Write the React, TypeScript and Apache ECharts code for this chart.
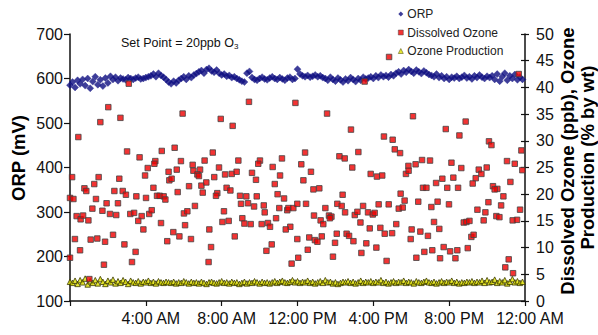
import React, { useEffect, useRef } from "react";
import * as echarts from "echarts";

const X_TICKS: string[] = ["", "4:00 AM", "8:00 AM", "12:00 PM", "4:00 PM", "8:00 PM", "12:00 AM"];
const STEP_HOURS = 8 / 60;

const ORP: number[] = [
  585, 592, 580, 596, 588,
  598, 584, 600, 578, 593, 604, 586, 597, 583, 601, 590, 605,
  598, 603, 595, 601, 599, 597, 602, 600, 598, 601, 603, 599, 600, 602, 604,
  606, 610, 604, 612, 607, 603, 598,
  592, 588, 594, 590, 596,
  600, 604, 598, 606, 602, 608, 611,
  615, 618, 612, 620, 623, 617, 614, 619,
  612, 608, 610, 605, 607, 602, 604, 600, 597,
  594, 592, 612, 616,
  602, 598, 596, 600, 603, 599, 597, 601, 604, 600, 598, 602, 599, 596, 601, 603, 598, 600,
  621,
  610, 606, 604, 607, 603, 605, 608, 604, 606, 602,
  600, 596, 603, 598, 594, 601, 597, 592, 599, 595, 602, 598, 593, 600, 596, 603, 599, 601,
  604, 600, 606, 602, 608, 604, 607, 603, 609, 606,
  612, 615, 610, 618, 614, 620, 616, 612, 619, 615, 611, 617, 613, 609,
  607, 604, 610, 602, 606, 600, 604, 598, 603, 601,
  605, 600, 603, 607, 601, 604, 599, 606, 602, 608, 603, 600, 605, 602,
  606, 598, 610, 594, 604, 612, 596, 606, 600, 609, 597, 603, 598,
];

const OZONE_PRODUCTION: number[] = [
  3.6, 3.4, 3.8, 3.2, 3.9, 3.5, 4.2, 3.1, 3.7, 3.4, 3.9, 3.3, 4.1, 3.6, 3.2, 3.8, 3.5, 4.0, 3.3, 3.7,
  3.4, 3.9, 3.6, 3.2, 3.8, 3.5, 3.4, 3.7, 3.3, 3.6, 3.5, 3.8, 3.4, 3.6, 3.3, 3.7, 3.5, 3.4, 3.6, 3.5,
  3.4, 3.6, 3.3, 3.5, 3.4, 3.7, 3.5, 3.3, 3.6, 3.4, 3.5, 3.3, 3.6, 3.4, 3.2, 3.5, 3.6, 3.4, 3.3, 3.5,
  3.7, 3.4, 3.5, 3.3, 3.6, 3.4, 3.5, 3.2, 3.4, 3.6, 3.3, 3.5, 3.4, 3.7, 3.5, 3.3, 3.6, 3.4, 3.5, 3.3,
  3.5, 3.7, 3.4, 3.6, 3.8, 3.5, 3.4, 3.6, 3.9, 3.5, 3.7, 3.4, 3.6, 3.5, 3.8, 3.4, 3.6, 3.3, 3.5, 3.7,
  3.4, 3.9, 3.5, 3.6, 3.3, 3.5, 3.2, 3.4, 3.6, 3.5, 3.7, 3.4, 3.6, 3.3, 3.5, 3.8, 3.4, 3.6, 3.5, 3.7,
  3.4, 3.6, 3.5, 3.9, 3.4, 3.6, 3.3, 3.5, 3.7, 3.4, 3.6, 3.5, 3.8, 3.4, 3.6, 3.5, 3.3, 3.7, 3.5, 3.4,
  3.6, 3.8, 3.5, 3.4, 3.6, 3.3, 3.5, 3.7, 3.4, 3.6, 3.5, 3.8, 3.4, 3.6, 3.3, 3.5, 3.4, 3.6, 3.5, 3.7,
  3.4, 3.6, 3.5, 3.8, 3.4, 3.9, 3.5, 3.6, 4.0, 3.4, 3.7, 3.5, 3.9, 3.3, 3.6, 4.1, 3.5, 3.7, 3.4, 3.6,
];

// [hour of day, dissolved ozone ppb]
const DISSOLVED_OZONE: number[][] = [
  [3.10, 40.7], [5.94, 35.1], [2.02, 36.3], [1.60, 33.5], [2.66, 34.3], [0.44, 30.7], [3.01, 28.0], [3.67, 26.9],
  [4.84, 28.1], [5.52, 28.7], [5.85, 26.2], [0.11, 23.2], [4.10, 24.9], [4.50, 26.2], [4.45, 25.7], [3.96, 23.5],
  [5.20, 24.2], [5.63, 24.6], [1.51, 23.2], [2.60, 22.9], [5.24, 22.6], [5.36, 22.9], [0.76, 21.1], [0.86, 20.6],
  [1.28, 21.9], [2.34, 20.6], [2.78, 20.6], [2.95, 19.9], [0.0, 19.3], [0.18, 19.1], [1.37, 19.1], [3.50, 19.6],
  [4.01, 19.3], [4.40, 21.2], [4.59, 19.7], [4.73, 19.7], [4.94, 19.6], [5.03, 19.0], [5.68, 20.4], [1.18, 17.3],
  [1.71, 16.9], [1.93, 18.3], [2.53, 18.3], [2.11, 16.3], [2.44, 16.1], [3.18, 16.3], [3.38, 16.5], [3.78, 15.9],
  [3.60, 15.0], [4.18, 16.3], [4.31, 17.0], [6.01, 16.4], [0.35, 15.9], [0.56, 15.3], [0.69, 16.0], [0.97, 15.1],
  [4.80, 14.6], [6.07, 14.2], [3.87, 13.4], [0.26, 11.6], [1.09, 11.5], [1.44, 11.7], [1.85, 11.1], [2.27, 12.4],
  [2.87, 10.6], [5.45, 12.9], [5.77, 12.1], [5.13, 11.2], [0.53, 9.5], [3.46, 9.2], [0.0, 8.1], [1.79, 6.8],
  [3.27, 7.3], [1.02, 4.1],
  [9.44, 37.3], [11.89, 37.1], [7.95, 34.1], [8.58, 32.8], [7.53, 27.8], [6.47, 25.5], [7.10, 26.3], [8.88, 26.3],
  [10.02, 26.3], [9.93, 25.7], [11.18, 26.7], [6.51, 24.4], [6.86, 24.6], [6.72, 23.7], [6.80, 23.4], [7.86, 25.0],
  [7.61, 23.2], [8.18, 23.7], [8.53, 23.8], [8.79, 24.2], [9.60, 24.0], [9.81, 22.7], [10.69, 25.1], [11.08, 23.5],
  [10.80, 21.9], [6.28, 21.5], [6.93, 21.6], [7.19, 22.2], [7.00, 20.3], [8.26, 21.2], [8.46, 20.7], [7.77, 20.2],
  [7.70, 19.7], [8.97, 19.7], [9.30, 19.6], [9.85, 19.6], [10.95, 20.0], [11.29, 19.2], [9.02, 18.2], [9.39, 18.3],
  [9.71, 17.7], [10.22, 17.9], [11.04, 17.4], [11.46, 17.0], [11.52, 17.4], [11.78, 17.4], [11.99, 18.2], [6.59, 17.8],
  [6.19, 16.8], [8.12, 16.8], [10.27, 16.6], [9.09, 15.5], [10.87, 15.5], [8.04, 14.8], [8.37, 15.0], [9.20, 14.5],
  [9.53, 14.4], [10.11, 14.4], [10.44, 14.6], [10.55, 13.9], [11.62, 13.9], [11.38, 13.4], [7.35, 13.4], [6.38, 11.6],
  [8.69, 12.1], [11.99, 11.6], [7.44, 10.1], [10.64, 10.6], [10.36, 9.4], [7.31, 7.3], [11.69, 7.0], [12.04, 8.1],
  [15.54, 41.1], [13.56, 35.1], [14.82, 32.1], [18.09, 34.6], [16.56, 30.8], [17.02, 30.2], [15.21, 27.9], [17.13, 28.4],
  [17.41, 27.7], [12.40, 27.8], [14.21, 27.1], [14.49, 26.7], [12.20, 25.6], [14.89, 25.0], [12.71, 24.2], [12.31, 22.6],
  [15.86, 23.8], [16.19, 23.3], [16.47, 23.5], [17.72, 23.8], [17.85, 25.3], [17.86, 24.4], [12.84, 20.9], [13.15, 21.1],
  [14.38, 19.9], [17.44, 20.1], [17.65, 18.8], [12.45, 18.2], [13.47, 17.4], [14.10, 18.2], [14.33, 17.8], [15.46, 17.8],
  [16.28, 18.1], [16.81, 18.1], [17.34, 17.3], [17.55, 17.5], [12.87, 16.0], [13.66, 16.0], [13.79, 15.8], [13.71, 15.5],
  [14.51, 16.6], [15.02, 16.1], [15.16, 16.7], [15.72, 16.6], [15.97, 16.2], [16.07, 16.5], [13.22, 15.1], [13.36, 14.4],
  [15.32, 14.7], [17.21, 14.4], [15.81, 13.6], [16.37, 13.7], [16.60, 12.6], [16.99, 12.7], [18.02, 13.4], [12.62, 11.9],
  [13.28, 12.1], [14.07, 12.6], [14.59, 12.6], [14.72, 12.2], [12.92, 11.4], [13.05, 11.1], [13.98, 10.9], [14.95, 11.2],
  [15.63, 10.8], [17.97, 11.6], [12.54, 9.6], [16.16, 10.0], [13.87, 8.3], [15.37, 9.0], [16.70, 7.5], [16.83, 45.7],
  [23.67, 42.5], [19.82, 32.2], [20.87, 33.6], [20.54, 31.0], [22.10, 29.9], [22.23, 29.2], [23.81, 28.2], [18.23, 25.6],
  [18.57, 26.4], [18.99, 26.3], [20.12, 25.9], [20.64, 24.9], [21.98, 25.0], [23.05, 26.2], [23.46, 25.7], [23.86, 24.5],
  [21.56, 24.6], [21.70, 23.8], [21.40, 23.0], [21.24, 22.0], [19.64, 22.9], [19.31, 22.1], [20.22, 23.1], [18.62, 21.2],
  [18.80, 21.2], [19.90, 21.2], [20.47, 21.2], [22.31, 21.5], [22.54, 21.0], [22.40, 20.9], [22.86, 19.6], [23.23, 22.3],
  [18.37, 18.6], [19.06, 17.6], [19.39, 18.6], [19.99, 18.1], [22.07, 18.5], [22.74, 17.9], [21.49, 17.1], [21.91, 16.6],
  [23.74, 17.1], [22.49, 15.9], [22.65, 15.7], [21.82, 15.1], [23.35, 15.1], [23.58, 15.2], [20.77, 14.7], [20.91, 14.8],
  [21.07, 15.0], [19.20, 14.8], [18.48, 13.0], [19.48, 13.5], [18.88, 12.2], [21.17, 12.0], [21.29, 12.4], [19.71, 10.1],
  [18.69, 9.2], [19.11, 9.5], [20.05, 9.3], [20.43, 9.5], [20.98, 9.9], [18.27, 8.1], [19.52, 8.0], [20.33, 8.0],
  [23.14, 7.8], [22.96, 6.3], [23.37, 5.2],
];

const FONT = '"Liberation Sans", Arial, Helvetica, sans-serif';

export default function App() {
  const ref = useRef<HTMLDivElement>(null);

  useEffect(() => {
    document.body.style.margin = "0";
    if (!ref.current) return;
    const chart = echarts.init(ref.current, undefined, { renderer: "svg" });

    const orpData = ORP.map((v, i) => [i * STEP_HOURS, v]);
    const prodData = OZONE_PRODUCTION.map((v, i) => [i * STEP_HOURS, v]);

    const axisLine = { show: true, lineStyle: { color: "#111", width: 1.5 } };
    const tickStyle = { color: "#111", width: 1.2 };
    const labelBase = { fontSize: 16, fontFamily: FONT, color: "#111" };
    const titleStyle = {
      fontSize: 18.5,
      fontWeight: "bold",
      fontFamily: FONT,
      fill: "#000",
      align: "center",
      verticalAlign: "middle",
      textAlign: "center",
      textVerticalAlign: "middle",
    };

    chart.setOption({
      animation: false,
      grid: { left: 70, top: 34, width: 455, height: 267 },
      legend: {
        orient: "vertical",
        left: 398,
        top: 8,
        padding: 0,
        itemWidth: 5,
        itemHeight: 5,
        itemGap: 6.5,
        data: [
          { name: "ORP", itemStyle: { borderWidth: 0 } },
          { name: "Dissolved Ozone", itemStyle: { borderWidth: 0.6 } },
          { name: "Ozone Production", itemStyle: { borderWidth: 0.6 } },
        ],
        textStyle: { fontSize: 12, fontFamily: FONT, color: "#222", lineHeight: 12, padding: [0, 0, 0, -1] },
      },
      xAxis: {
        type: "value",
        min: 0,
        max: 24,
        interval: 4,
        axisLine,
        axisTick: { show: true, length: 5, lineStyle: tickStyle },
        splitLine: { show: false },
        axisLabel: {
          ...labelBase,
          margin: 9,
          padding: [0, 0, 0, 10],
          formatter: (v: number) => X_TICKS[Math.round(v / 4)] ?? "",
        },
      },
      yAxis: [
        {
          type: "value",
          min: 100,
          max: 700,
          interval: 100,
          position: "left",
          axisLine,
          axisTick: { show: true, length: 6, lineStyle: tickStyle },
          splitLine: { show: false },
          axisLabel: { ...labelBase, margin: 7 },
        },
        {
          type: "value",
          min: 0,
          max: 50,
          interval: 5,
          position: "right",
          axisLine,
          axisTick: { show: true, length: 4, lineStyle: tickStyle },
          splitLine: { show: false },
          axisLabel: { ...labelBase, margin: 11 },
        },
        {
          type: "value",
          min: 0,
          max: 50,
          interval: 5,
          position: "right",
          axisLine: { show: false },
          axisTick: { show: true, inside: true, length: 4, lineStyle: tickStyle },
          splitLine: { show: false },
          axisLabel: { show: false },
        },
      ],
      graphic: [
        { type: "text", x: 18, y: 158, rotation: Math.PI / 2, style: { text: "ORP (mV)", ...titleStyle } },
        { type: "text", x: 567, y: 161, rotation: Math.PI / 2, style: { text: "Dissolved Ozone (ppb), Ozone", ...titleStyle } },
        { type: "text", x: 587, y: 157.5, rotation: Math.PI / 2, style: { text: "Production (% by wt)", ...titleStyle } },
        {
          type: "text",
          x: 121,
          y: 43,
          style: {
            text: "{a|Set Point = 20ppb O}{s|3}",
            fontFamily: FONT,
            fill: "#111",
            align: "left",
            verticalAlign: "middle",
            textAlign: "left",
            textVerticalAlign: "middle",
            rich: {
              a: { fontSize: 12.5, fontFamily: FONT, color: "#111", lineHeight: 14, verticalAlign: "middle" },
              s: { fontSize: 8, fontFamily: FONT, color: "#111", lineHeight: 14, verticalAlign: "bottom", padding: [4, 0, 0, 0] },
            },
          },
        },
      ],
      series: [
        {
          name: "ORP",
          type: "scatter",
          yAxisIndex: 0,
          symbol: "diamond",
          symbolSize: 7,
          data: orpData,
          itemStyle: { color: "#0c0c80", borderColor: "#2a2a90", borderWidth: 0.5 },
          z: 2,
        },
        {
          name: "Dissolved Ozone",
          type: "scatter",
          yAxisIndex: 1,
          symbol: "rect",
          symbolSize: 5.5,
          data: DISSOLVED_OZONE,
          itemStyle: { color: "#f00000", borderColor: "#444", borderWidth: 1 },
          z: 4,
        },
        {
          name: "Ozone Production",
          type: "scatter",
          yAxisIndex: 1,
          symbol: "triangle",
          symbolSize: 5.5,
          data: prodData,
          itemStyle: { color: "#e0e000", borderColor: "#3a3a00", borderWidth: 1 },
          z: 3,
        },
      ],
    });

    return () => chart.dispose();
  }, []);

  return <div ref={ref} style={{ width: 598, height: 335 }} />;
}
